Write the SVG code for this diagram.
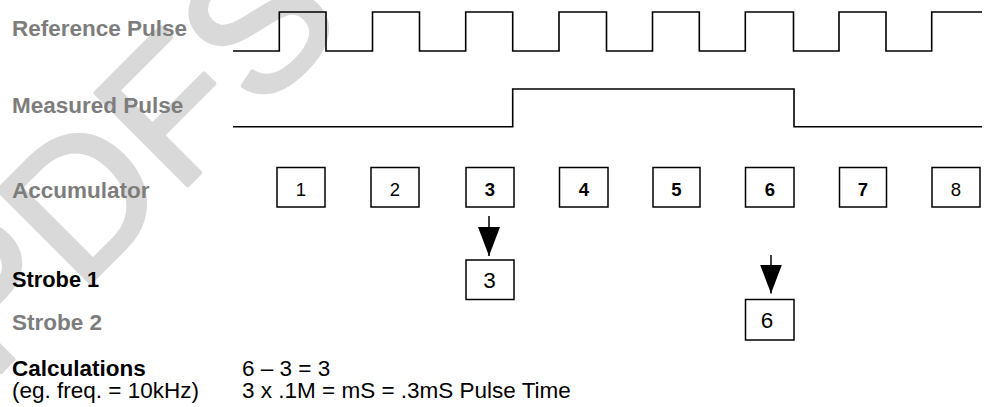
<svg xmlns="http://www.w3.org/2000/svg" width="984" height="407" viewBox="0 0 984 407">
<defs>
<style>
.lbl{font-family:"Liberation Sans",Arial,sans-serif;font-weight:bold;font-size:22.5px;fill:#7d7d7d}
.blk{fill:#000}
.reg{font-family:"Liberation Sans",Arial,sans-serif;font-size:22.5px;fill:#000}
.wave{fill:none;stroke:#000;stroke-width:1.6}
.box{fill:#fff;stroke:#000;stroke-width:1.5}
.num{font-family:"Liberation Sans",Arial,sans-serif;font-size:18.5px;fill:#000;text-anchor:middle}
.b{font-weight:bold}
.snum{font-family:"Liberation Sans",Arial,sans-serif;font-size:22.5px;fill:#000;text-anchor:middle}
.conn{stroke:#000;stroke-width:1.5;fill:none}
.wm{font-family:"Liberation Sans",Arial,sans-serif;font-size:190px;fill:#d9d9d9;stroke:#d9d9d9;stroke-width:4;stroke-linejoin:round}
</style>
<marker id="ah" viewBox="0 0 29 22" refX="29" refY="11" markerWidth="29" markerHeight="22" markerUnits="userSpaceOnUse" orient="auto">
<path d="M0,0 L29,11 L0,22 z" fill="#000"/>
</marker>
</defs>
<rect width="984" height="407" fill="#fff"/>
<text class="wm" transform="translate(-10,383) rotate(-45)">PDFS</text>

<g id="labels">
<text class="lbl" x="12" y="36">Reference Pulse</text>
<text class="lbl" x="12" y="113">Measured Pulse</text>
<text class="lbl" x="12" y="198">Accumulator</text>
<text class="lbl blk" x="12" y="287" style="font-size:21.8px">Strobe 1</text>
<text class="lbl" x="12" y="330">Strobe 2</text>
<text class="lbl blk" x="12" y="376">Calculations</text>
<text class="reg" x="12" y="398">(eg. freq. = 10kHz)</text>
<text class="reg" x="242" y="376">6 – 3 = 3</text>
<text class="reg" x="242" y="398">3 x .1M = mS = .3mS Pulse Time</text>
</g>

<g id="signals">
<path class="wave" d="M233,51 H279.3 V12 H326 V51 H372.5 V12 H419.5 V51 H465.7 V12 H512.7 V51 H559 V12 H606.5 V51 H652.5 V12 H699.3 V51 H745.3 V12 H793.5 V51 H839 V12 H886 V51 H931.7 V12 H982"/>
<path class="wave" d="M233,126.7 H512.7 V89 H794 V126.7 H982"/>
</g>

<g id="acc1"><rect class="box" x="277" y="167.5" width="48" height="39.5"/><text class="num" x="301" y="195.5">1</text></g>
<g id="acc2"><rect class="box" x="371" y="167.5" width="48" height="39.5"/><text class="num" x="395" y="195.5">2</text></g>
<g id="acc3"><rect class="box" x="466" y="167.5" width="48" height="39.5"/><text class="num b" x="490" y="195.5">3</text></g>
<g id="acc4"><rect class="box" x="559.5" y="167.5" width="48.5" height="39.5"/><text class="num b" x="584" y="195.5">4</text></g>
<g id="acc5"><rect class="box" x="653" y="167.5" width="47" height="39.5"/><text class="num b" x="676.5" y="195.5">5</text></g>
<g id="acc6"><rect class="box" x="745.5" y="167.5" width="48.5" height="39.5"/><text class="num b" x="770" y="195.5">6</text></g>
<g id="acc7"><rect class="box" x="839.5" y="167.5" width="47" height="39.5"/><text class="num b" x="863" y="195.5">7</text></g>
<g id="acc8"><rect class="box" x="932" y="167.5" width="48" height="39.5"/><text class="num" x="956" y="195.5">8</text></g>

<g id="strobe1"><rect class="box" x="466" y="260" width="48" height="39.5"/><text class="snum" x="489.5" y="287.5">3</text></g>
<g id="strobe2"><rect class="box" x="745.5" y="299.5" width="48.5" height="40.5"/><text class="snum" x="767" y="328">6</text></g>

<g id="connectors">
<line class="conn" x1="489" y1="216" x2="489" y2="256" marker-end="url(#ah)"/>
<line class="conn" x1="771" y1="255" x2="771" y2="293.5" marker-end="url(#ah)"/>
</g>
</svg>
